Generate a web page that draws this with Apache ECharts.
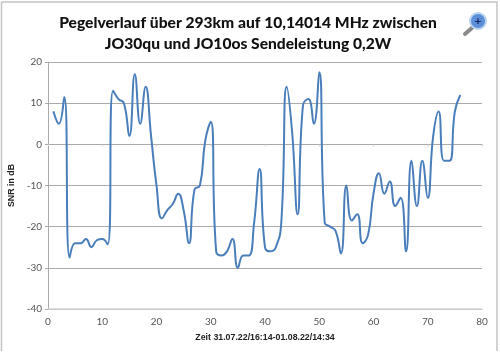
<!DOCTYPE html>
<html>
<head>
<meta charset="utf-8">
<style>
  html, body { margin: 0; padding: 0; background: #fff; }
  #chart { width: 500px; height: 352px; }
</style>
<script src="https://cdn.jsdelivr.net/npm/echarts@6/dist/echarts.min.js"></script>
</head>
<body>
<div id="chart"></div>
<script>
var titleText = "Pegelverlauf über 293km auf 10,14014 MHz zwischen\nJO30qu und JO10os Sendeleistung 0,2W";
var xName = "Zeit 31.07.22/16:14-01.08.22/14:34";
var yName = "SNR in dB";
// SNR, Messpunkte 1..76
var snr = [
  8, 5, 11.5, -27.5, -24, -24, -23, -25, -23.3, -23,
  -24.3, 13, 11, 10, 2, 17, 5, 14, 2, -10,
  -18, -16, -14.5, -12, -16, -24, -11, -10, 1, 5.5,
  -26, -27, -26, -23, -30, -27, -27, -19, -6, -25,
  -26, -25, -19, 14, 3, -17, 9.5, 11, 5, 17.5,
  -19, -20, -21, -26.5, -10, -18.5, -17, -24, -22, -12,
  -7, -12, -9, -15, -13, -26, -4, -15, -4, -13,
  2, 8, -4, -4, 8, 12
];
var points = snr.map(function (v, i) { return [i + 1, v]; });

var chart = echarts.init(document.getElementById("chart"));
var textFont = "Lato";
var nameFont = "Liberation Sans";
chart.setOption({
  animation: false,
  backgroundColor: "#fff",
  title: {
    text: titleText,
    left: 243,
    top: 8,
    textAlign: "center",
    textStyle: { fontFamily: textFont, fontSize: 15.6, fontWeight: 900, color: "#111", lineHeight: 20.5 }
  },
  grid: { left: 48, right: 18, top: 62, bottom: 43, outerBoundsMode: "none" },
  xAxis: [
    {
      type: "value", min: 0, max: 80, interval: 10,
      axisLine: { onZero: false, lineStyle: { color: "#d4d4d4", width: 1.5 } },
      axisTick: { show: false },
      splitLine: { show: false },
      axisLabel: { color: "#555", fontSize: 10, fontFamily: textFont, margin: 8 },
      name: xName, nameLocation: "middle", nameGap: 24,
      nameTextStyle: { fontSize: 8.8, fontWeight: "bold", color: "#222", fontFamily: nameFont }
    },
    {
      type: "value", min: 0, max: 80, interval: 10, position: "bottom",
      axisLine: { onZero: true, lineStyle: { color: "#aaa" } },
      axisTick: { show: true, inside: false, length: 2, lineStyle: { color: "#ccc" } },
      splitLine: { show: false },
      axisLabel: { show: false }
    }
  ],
  yAxis: {
    type: "value", min: -40, max: 20, interval: 10,
    axisLine: { show: true, onZero: false, lineStyle: { color: "#aaa" } },
    axisTick: { show: true, length: 3, lineStyle: { color: "#aaa" } },
    splitLine: { show: true, lineStyle: { color: "#aaa", width: 1 } },
    axisLabel: { color: "#555", fontSize: 10, fontFamily: textFont, margin: 6 },
    name: yName, nameLocation: "middle", nameGap: 18, nameRotate: 90,
    nameTextStyle: { fontSize: 8.8, fontWeight: "bold", color: "#222", fontFamily: nameFont }
  },
  series: [{
    type: "line",
    xAxisIndex: 0,
    data: points,
    smooth: 0.5,
    showSymbol: false,
    lineStyle: { color: "#4a7ebb", width: 2 }
  }],
  graphic: [
    // Rahmen der Vorschau, unten offen
    { type: "polyline", silent: true, z: -1, shape: { points: [[1.5, 351], [1.5, 2], [497, 2], [497, 351]] }, style: { fill: "none", stroke: "#c4c4c4", lineWidth: 1.5 } },
    // Lupe
    { type: "line", silent: true, z: 10, shape: { x1: 465, y1: 34, x2: 473, y2: 27 }, style: { stroke: "#8a8a8a", lineWidth: 4, lineCap: "round" } },
    { type: "circle", silent: true, z: 11, shape: { cx: 478, cy: 21, r: 8 }, style: { fill: "#5d8fd8", stroke: "#b9d3ef", lineWidth: 2 } },
    { type: "text", silent: true, z: 12, x: 478, y: 21, style: { text: "+", fill: "#12245c", fontSize: 12, fontWeight: "bold", fontFamily: textFont, align: "center", verticalAlign: "middle" } }
  ]
});
</script>
</body>
</html>
